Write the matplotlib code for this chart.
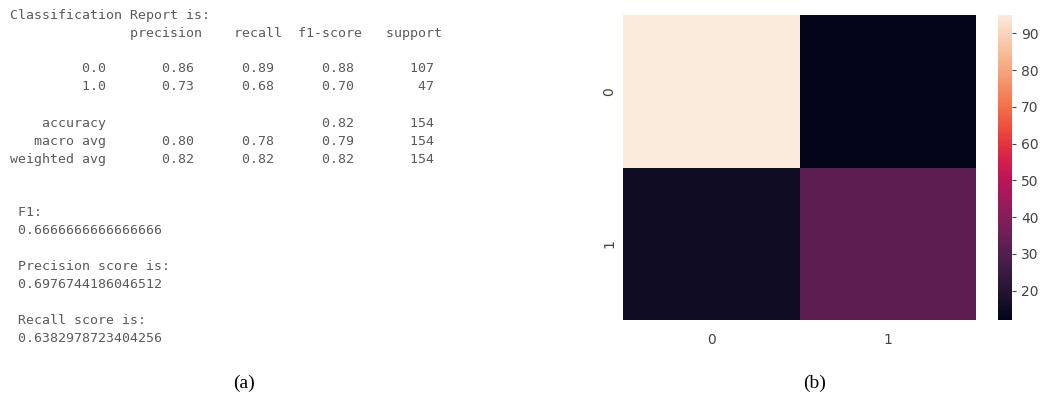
import matplotlib
matplotlib.use("Agg")
import matplotlib.pyplot as plt
import seaborn as sns
import numpy as np

# ---- data ----
class_labels = ["0.0", "1.0"]
precision = [0.86, 0.73]
recall = [0.89, 0.68]
f1 = [0.88, 0.70]
support = [107, 47]
accuracy = 0.82
total = 154
macro = [0.80, 0.78, 0.79]
weighted = [0.82, 0.82, 0.82]

f1_score_txt = "0.6666666666666666"
precision_score_txt = "0.6976744186046512"
recall_score_txt = "0.6382978723404256"

conf_matrix = [[95, 12], [15, 32]]
cm_ticklabels = ["0", "1"]

# ---- build the printed text (sklearn classification_report style) ----
w = 12
head = " " * w + " " + "".join(" {:>9}".format(h) for h in ["precision", "recall", "f1-score", "support"])
rows = []
for c, p, r, f, s in zip(class_labels, precision, recall, f1, support):
    rows.append("{:>{w}s} ".format(c, w=w) + "".join(" {:>9.2f}".format(v) for v in (p, r, f)) + " {:>9}".format(s))
acc_row = "{:>{w}s} ".format("accuracy", w=w) + " " * 20 + " {:>9.2f}".format(accuracy) + " {:>9}".format(total)
macro_row = "{:>{w}s} ".format("macro avg", w=w) + "".join(" {:>9.2f}".format(v) for v in macro) + " {:>9}".format(total)
wt_row = "{:>{w}s} ".format("weighted avg", w=w) + "".join(" {:>9.2f}".format(v) for v in weighted) + " {:>9}".format(total)

lines = ["Classification Report is:", " " + head, ""] + rows + ["", acc_row, macro_row, wt_row, "", "",
         " F1:", " " + f1_score_txt, "", " Precision score is:", " " + precision_score_txt, "",
         " Recall score is:", " " + recall_score_txt]

W, H = 1043, 401
fig = plt.figure(figsize=(W / 100, H / 100), dpi=100)

x0 = 10
y0 = 15
dy = 18
for i, ln in enumerate(lines):
    if ln.strip() == "":
        continue
    fig.text(x0 / W, 1 - (y0 + i * dy) / H, ln, family="DejaVu Sans Mono", fontsize=9.5,
             color="#5a5a5a", va="center", ha="left")

# ---- heatmap ----
ax = fig.add_axes([623 / W, 1 - 320 / H, (976 - 623) / W, (320 - 15) / H])
cax = fig.add_axes([998 / W, 1 - 320 / H, (1012 - 998) / W, (320 - 15) / H])
sns.heatmap(np.array(conf_matrix), ax=ax, cbar_ax=cax, cmap="rocket",
            xticklabels=cm_ticklabels, yticklabels=cm_ticklabels)
ax.tick_params(axis="x", length=0, labelsize=10, labelcolor="#444444", pad=9)
ax.tick_params(axis="y", length=0, labelsize=10, labelcolor="#444444", pad=5)
cax.tick_params(labelsize=10, labelcolor="#444444", length=3, color="#444444")
cax.set_yticks([20, 30, 40, 50, 60, 70, 80, 90])
for sp in cax.spines.values():
    sp.set_visible(False)

fig.text(244 / W, 1 - 383 / H, "(a)", family="Liberation Serif", fontsize=14, ha="center", va="center")
fig.text(815 / W, 1 - 383 / H, "(b)", family="Liberation Serif", fontsize=14, ha="center", va="center")

fig.savefig("out.png", dpi=100)
